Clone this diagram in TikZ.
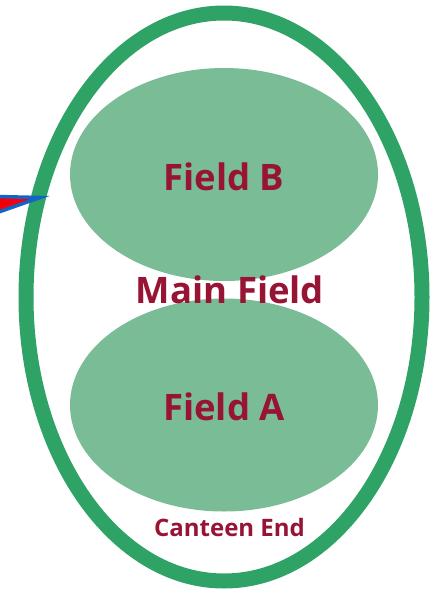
\documentclass[tikz,border=0pt]{standalone}
\usepackage{fontspec}
\setmainfont{Open Sans}
\usetikzlibrary{shapes.geometric}
\definecolor{ringgreen}{RGB}{46,163,101}
\definecolor{fieldgreen}{RGB}{122,188,150}
\definecolor{labelred}{RGB}{152,20,52}
\definecolor{arrowred}{RGB}{245,0,10}
\definecolor{arrowblue}{RGB}{18,100,200}
\tikzset{
  ring/.style={ellipse, draw=ringgreen, line width=15pt, minimum width=396pt, minimum height=568pt, inner sep=0pt},
  field/.style={ellipse, fill=fieldgreen, minimum width=308pt, minimum height=213pt, inner sep=0pt},
  biglabel/.style={text=labelred, font=\bfseries\fontsize{36.5}{42}\selectfont, anchor=base, inner sep=0pt},
  smalllabel/.style={text=labelred, font=\bfseries\fontsize{24}{28}\selectfont, anchor=base, inner sep=0pt},
  pointer/.style={fill=arrowred, draw=arrowblue, line width=3.5pt, line join=miter}
}
\begin{document}
\begin{tikzpicture}[x=1pt,y=-1pt]
\useasboundingbox (0,0) rectangle (436,594);
\clip (0,0) rectangle (436,594);
\node[ring] (outer) at (224,297) {};
\node[field] (fieldB) at (224,174.5) {};
\node[field] (fieldA) at (224,405) {};
\node[biglabel] (lblB) at (224,190) {Field B};
\node[biglabel] (lblA) at (224,420) {Field A};
\node[biglabel] (lblMain) at (230,303) {Main Field};
\node[smalllabel] (lblCanteen) at (229.5,536) {Canteen End};
\coordinate (tip) at (40,197.5);
\coordinate (tailtop) at (-4,196.5);
\coordinate (tailbot) at (-4,213);
\draw[pointer] (tailtop) -- (tip) -- (tailbot);
\end{tikzpicture}
\end{document}
